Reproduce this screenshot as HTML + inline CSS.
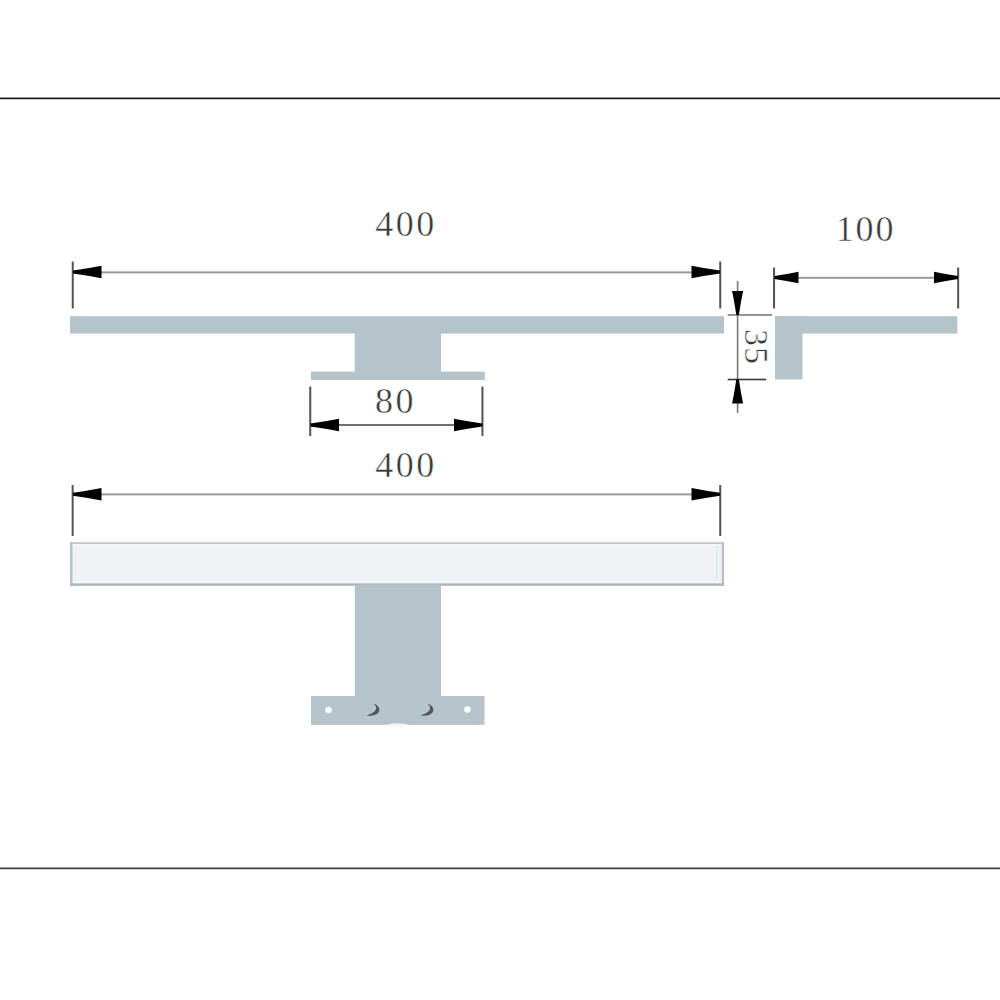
<!DOCTYPE html>
<html><head><meta charset="utf-8">
<style>
html,body{margin:0;padding:0;background:#fff;width:1000px;height:1000px;overflow:hidden}
svg{display:block}
text{font-family:"Liberation Serif",serif;font-size:36px;fill:#383838;stroke:#fff;stroke-width:0.45px;letter-spacing:2.5px}
</style></head><body>
<svg width="1000" height="1000" viewBox="0 0 1000 1000">
<rect x="0" y="97.6" width="1000" height="1.6" fill="#111"/>
<rect x="0" y="867.5" width="1000" height="1.7" fill="#3a3a3a"/>
<g fill="#b5c3ca">
<rect x="70" y="316.2" width="654" height="17.4"/>
<rect x="354.7" y="333" width="86.3" height="40"/>
<rect x="311" y="371.6" width="173.8" height="8.4"/>
<rect x="775" y="316.2" width="182.3" height="17.4"/>
<rect x="775" y="316.2" width="27.5" height="63.3"/>
</g>
<rect x="71.75" y="261.5" width="2.0" height="47" fill="#545454"/>
<rect x="719.25" y="261.5" width="2.0" height="47" fill="#545454"/>
<rect x="100" y="271.4" width="593" height="2" fill="#999999"/>
<path d="M73,270.5 Q87.25,268.535 101.5,265.7 L101.5,278.3 Q87.25,275.465 73,273.5 Z" fill="#000"/>
<path d="M720,270.5 Q705.75,268.535 691.5,265.7 L691.5,278.3 Q705.75,275.465 720,273.5 Z" fill="#000"/>
<text x="375.3" y="235.6">400</text>
<rect x="773.05" y="267.5" width="2.0" height="41" fill="#545454"/>
<rect x="957.15" y="267.5" width="2.0" height="41" fill="#545454"/>
<rect x="797" y="276.8" width="138" height="2" fill="#999999"/>
<path d="M774.5,276.1 Q786.5,274.4375 798.5,271.85 L798.5,283.35 Q786.5,280.76250000000005 774.5,279.1 Z" fill="#000"/>
<path d="M958,276.1 Q946.0,274.4375 934,271.85 L934,283.35 Q946.0,280.76250000000005 958,279.1 Z" fill="#000"/>
<text x="835.8" y="241.2" style="letter-spacing:1.8px">100</text>
<rect x="736.8" y="281" width="1.6" height="132" fill="#7a7a7a"/>
<rect x="727.7" y="314.2" width="44.3" height="1.6" fill="#7a7a7a"/>
<rect x="727.7" y="378.7" width="38.5" height="1.6" fill="#3a3a3a"/>
<path d="M736.3000000000001,315 Q734.575,303.0 732.1,291 L743.1,291 Q740.625,303.0 738.9,315 Z" fill="#000"/>
<path d="M736.3000000000001,379.5 Q734.575,391.5 732.1,403.5 L743.1,403.5 Q740.625,391.5 738.9,379.5 Z" fill="#000"/>
<text transform="translate(745,329) rotate(90)" x="0" y="0" style="font-size:34px;letter-spacing:1px">35</text>
<rect x="309.25" y="386.5" width="2.0" height="49.5" fill="#545454"/>
<rect x="481.45" y="386.5" width="2.0" height="49.5" fill="#545454"/>
<rect x="338" y="424" width="117" height="2" fill="#707070"/>
<path d="M310.5,423.5 Q324.75,421.535 339.0,418.7 L339.0,431.3 Q324.75,428.465 310.5,426.5 Z" fill="#000"/>
<path d="M482.5,423.5 Q468.25,421.535 454.0,418.7 L454.0,431.3 Q468.25,428.465 482.5,426.5 Z" fill="#000"/>
<text x="375" y="413">80</text>
<rect x="71.65" y="485" width="2.0" height="51" fill="#545454"/>
<rect x="719.25" y="485" width="2.0" height="51" fill="#545454"/>
<rect x="100" y="493.4" width="593" height="2" fill="#999999"/>
<path d="M73,492.7 Q87.25,490.735 101.5,487.9 L101.5,500.5 Q87.25,497.66499999999996 73,495.7 Z" fill="#000"/>
<path d="M720,492.7 Q705.75,490.735 691.5,487.9 L691.5,500.5 Q705.75,497.66499999999996 720,495.7 Z" fill="#000"/>
<text x="375.3" y="477.2">400</text>
<rect x="70" y="542.2" width="654" height="43.6" fill="#eef2f4"/>
<rect x="70" y="542.2" width="654" height="1.8" fill="#c2c7ca"/>
<rect x="72.5" y="544.5" width="648" height="1.5" fill="#f6f9fb"/>
<rect x="72.5" y="581" width="648" height="1.5" fill="#f6f9fb"/>
<rect x="70" y="542.2" width="2.5" height="43.6" fill="#bbc1c4"/>
<rect x="721.8" y="542.2" width="2.2" height="43.6" fill="#b8bec1"/>
<rect x="716.2" y="546" width="1" height="34" fill="#dde2e5"/>
<rect x="70" y="583.4" width="654" height="2.4" fill="#b0b6ba"/>
<g fill="#b5c3ca">
<rect x="354.8" y="585.8" width="86.2" height="112"/>
<rect x="311" y="696" width="173.5" height="28.8"/>
</g>
<circle cx="328.5" cy="710" r="3.3" fill="#fff"/>
<circle cx="467.5" cy="709.5" r="3.3" fill="#fff"/>
<path d="M372.5,703.5 C378,704.5 381,709 378.5,712.5 C376,715.5 371,716.2 366.8,715.5 C370.5,714 374,712.5 375.6,710 C377,707.5 376,705 372.5,703.5 Z" fill="#50565a"/>
<path transform="translate(54,0)" d="M372.5,703.5 C378,704.5 381,709 378.5,712.5 C376,715.5 371,716.2 366.8,715.5 C370.5,714 374,712.5 375.6,710 C377,707.5 376,705 372.5,703.5 Z" fill="#50565a"/>
<ellipse cx="398" cy="725.2" rx="9.5" ry="1.9" fill="#f3f6f7"/>
</svg>
</body></html>
